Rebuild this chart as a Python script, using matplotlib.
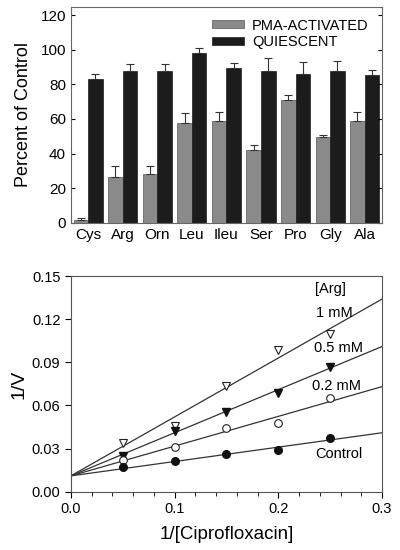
import numpy as np
import matplotlib.pyplot as plt

plt.rcParams['font.family'] = ['Liberation Sans', 'DejaVu Sans']

# top panel: percent of control
amino = ["Cys", "Arg", "Orn", "Leu", "Ileu", "Ser", "Pro", "Gly", "Ala"]
pma = [1.5, 26.5, 28, 57.5, 59, 42, 71, 49.5, 59]
pma_err = [1, 6.5, 5, 6, 5, 3, 3, 1.5, 5]
quiet = [83, 88, 88, 98, 89.5, 88, 86, 88, 85.5]
quiet_err = [3, 4, 4, 3, 3, 7, 7, 5.5, 3]

# bottom panel: double reciprocal plot
inv_cipro = [0.05, 0.10, 0.15, 0.20, 0.25]
arg_1mM = [0.0336, 0.0459, 0.0737, 0.0985, 0.110]
arg_05mM = [0.025, 0.042, 0.0556, 0.0689, 0.0867]
arg_02mM = [0.022, 0.0308, 0.0443, 0.0475, 0.0649]
control = [0.0169, 0.0213, 0.026, 0.029, 0.0376]
intercept = 0.011
slopes = [0.41, 0.30, 0.207, 0.100]

fig = plt.figure(figsize=(4, 5.5), dpi=100)

ax1 = fig.add_axes([0.177, 0.595, 0.778, 0.393])
x = np.arange(len(amino))
w = 0.42
ax1.bar(x - w / 2, pma, w, color='#8a8a8a', edgecolor='#555555', linewidth=0.5,
        label='PMA-ACTIVATED')
ax1.bar(x + w / 2, quiet, w, color='#1c1c1c', edgecolor='#1c1c1c', linewidth=0.5,
        label='QUIESCENT')
ax1.errorbar(x - w / 2, pma, yerr=[np.zeros(len(pma)), pma_err], fmt='none',
             ecolor='#333333', elinewidth=0.8, capsize=3, capthick=0.8)
ax1.errorbar(x + w / 2, quiet, yerr=[np.zeros(len(quiet)), quiet_err], fmt='none',
             ecolor='#333333', elinewidth=0.8, capsize=3, capthick=0.8)
ax1.set_xlim(-0.5, len(amino) - 0.5)
ax1.set_ylim(0, 125)
ax1.set_yticks(np.arange(0, 121, 20))
ax1.set_xticks(x)
ax1.set_xticklabels(amino, fontsize=11)
ax1.tick_params(axis='y', direction='in', right=True, labelsize=11, length=3)
ax1.tick_params(axis='x', length=0, pad=4)
ax1.set_ylabel('Percent of Control', fontsize=13, labelpad=6)
for s in ax1.spines.values():
    s.set_color('#666666')
ax1.legend(loc='upper right', fontsize=10.5, frameon=False, handlelength=2.2,
           handleheight=0.45, handletextpad=0.55, labelspacing=0.15,
           borderaxespad=0.2, bbox_to_anchor=(0.985, 0.985))

ax2 = fig.add_axes([0.177, 0.106, 0.778, 0.392])
xx = np.array([0, 0.3])
for sl in slopes:
    ax2.plot(xx, intercept + sl * xx, color='#333333', linewidth=0.9)
ms = 5.5
ax2.plot(inv_cipro, arg_1mM, 'v', mfc='white', mec='#222222', ms=ms, mew=0.8)
ax2.plot(inv_cipro, arg_05mM, 'v', mfc='#111111', mec='#111111', ms=ms)
ax2.plot(inv_cipro, arg_02mM, 'o', mfc='white', mec='#222222', ms=ms, mew=0.8)
ax2.plot(inv_cipro, control, 'o', mfc='#111111', mec='#111111', ms=ms)
ax2.set_xlim(0, 0.3)
ax2.set_ylim(0, 0.15)
ax2.set_xticks([0, 0.1, 0.2, 0.3])
ax2.set_xticklabels(['0.0', '0.1', '0.2', '0.3'])
ax2.set_xticks(np.arange(0, 0.301, 0.02), minor=True)
ax2.set_yticks(np.arange(0, 0.151, 0.03))
ax2.set_yticklabels(['0.00', '0.03', '0.06', '0.09', '0.12', '0.15'])
ax2.tick_params(axis='both', direction='out', labelsize=10.5, length=4)
ax2.tick_params(axis='x', which='minor', direction='out', length=3)
ax2.set_xlabel('1/[Ciprofloxacin]', fontsize=13.5, labelpad=7)
ax2.set_ylabel('1/V', fontsize=14, labelpad=3)
for s in ax2.spines.values():
    s.set_color('#555555')
ax2.text(0.2356, 0.1407, '[Arg]', fontsize=10.5, ha='left', va='center')
ax2.text(0.2365, 0.124, '1 mM', fontsize=10.5, ha='left', va='center')
ax2.text(0.234, 0.0997, '0.5 mM', fontsize=10.5, ha='left', va='center')
ax2.text(0.2324, 0.0737, '0.2 mM', fontsize=10.5, ha='left', va='center')
ax2.text(0.2356, 0.0262, 'Control', fontsize=10.5, ha='left', va='center')

fig.savefig('out.png', dpi=100)
